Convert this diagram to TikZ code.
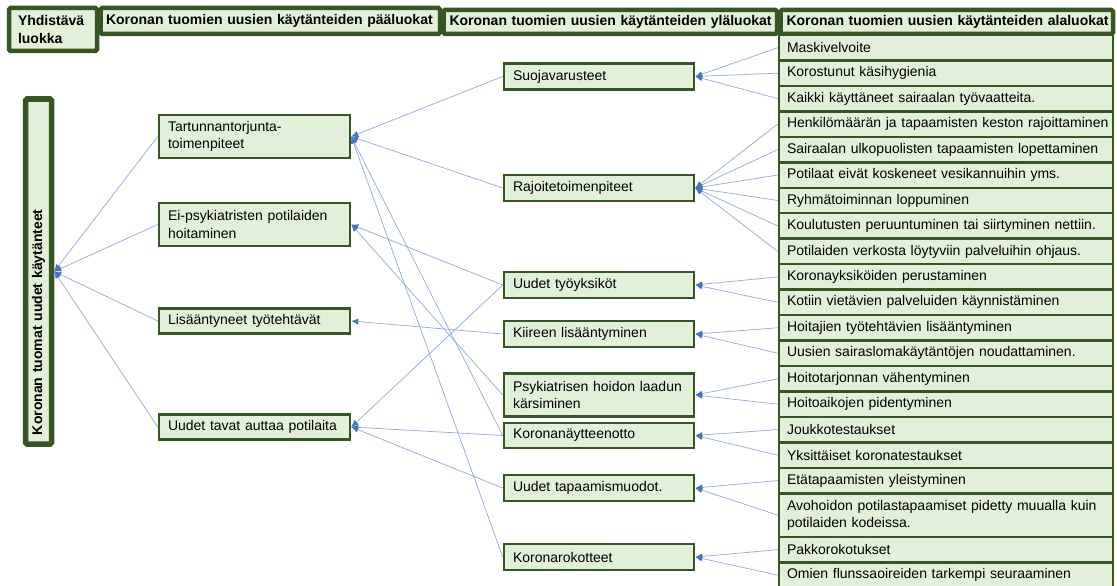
\documentclass[tikz,border=0pt]{standalone}
\usepackage{fontspec}
\setmainfont{Liberation Sans}
\usetikzlibrary{arrows.meta}
\definecolor{dkgreen}{HTML}{375623}
\definecolor{ltgreen}{HTML}{E2EFD9}
\definecolor{lineblue}{HTML}{8FAADC}
\definecolor{tipblue}{HTML}{4472C4}
\newcommand{\myfs}{\fontsize{14pt}{17.5pt}\selectfont}
\begin{document}
\begin{tikzpicture}[x=1pt,y=-1pt,
  cbox/.style={draw=dkgreen, fill=ltgreen, line width=2.5pt, inner xsep=9pt, inner ysep=0pt, align=left, font=\myfs, text=black},
  lbox/.style={cbox, text width=173pt, minimum width=191pt},
  mbox/.style={cbox, text width=172pt, minimum width=190pt},
  rbox/.style={cbox, inner xsep=8pt, text width=318pt, minimum width=334pt, minimum height=25.46pt},
  hbox/.style={cbox, line width=4.5pt, font=\myfs\bfseries, rounded corners=1.5pt},
  conn/.style={draw=lineblue, line width=0.7pt, -{Latex[length=7pt,width=6pt,color=tipblue]}},
]
\fill[white] (0,0) rectangle (1117,586);
\useasboundingbox (0,0) rectangle (1117,586);

% header
\node[hbox, inner xsep=5.5pt, text width=328.5pt, minimum width=339.5pt, minimum height=26pt] (hpaa) at (270.25,21) {\mbox{Koronan tuomien uusien käytänteiden pääluokat}};
\node[hbox, inner xsep=6pt, text width=321.5pt, minimum width=333.5pt, minimum height=24pt] (hyla) at (610.25,22) {\mbox{Koronan tuomien uusien käytänteiden yläluokat}};
\node[hbox, inner xsep=6pt, text width=320.5pt, minimum width=332.5pt, minimum height=24pt] (hala) at (946.75,22) {\mbox{Koronan tuomien uusien käytänteiden alaluokat}};
\node[hbox, inner xsep=9pt, text width=70pt, minimum width=88pt, minimum height=43pt] (hyhd) at (53,29.5) {Yhdistävä\\luokka};

% root
\node[hbox, line width=5.5pt, rotate=90, inner xsep=9pt, text width=327pt, minimum width=345pt, minimum height=26pt] (root) at (38.5,271.5) {Koronan tuomat uudet käytänteet};

% paaluokat
\node[lbox, minimum height=43pt] (tart) at (254.5,136.5) {Tartunnantorjunta-\\toimenpiteet};
\node[lbox, minimum height=43pt] (ei) at (254.5,224.5) {Ei-psykiatristen potilaiden\\hoitaminen};
\node[lbox, minimum height=25pt] (lis) at (254.5,321) {Lisääntyneet työtehtävät};
\node[lbox, minimum height=25pt] (tavat) at (254.5,427) {Uudet tavat auttaa potilaita};

% ylaluokat
\node[mbox, minimum height=26pt] (suoja) at (599,76.5) {Suojavarusteet};
\node[mbox, minimum height=26pt] (rajo) at (599,188) {Rajoitetoimenpiteet};
\node[mbox, minimum height=26pt] (tyoy) at (599,285) {Uudet työyksiköt};
\node[mbox, minimum height=26pt] (kiire) at (599,334) {Kiireen lisääntyminen};
\node[mbox, minimum height=43pt] (psyk) at (599,395) {Psykiatrisen hoidon laadun\\kärsiminen};
\node[mbox, minimum height=25pt] (nayt) at (599,435.5) {Koronanäytteenotto};
\node[mbox, minimum height=26pt] (tapa) at (599,488) {Uudet tapaamismuodot.};
\node[mbox, minimum height=26pt] (roko) at (599,557) {Koronarokotteet};

% alaluokat
\node[rbox] (r1) at (946,47.73) {Maskivelvoite};
\node[rbox] (r2) at (946,73.19) {Korostunut käsihygienia};
\node[rbox] (r3) at (946,98.65) {Kaikki käyttäneet sairaalan työvaatteita.};
\node[rbox] (r4) at (946,124.11) {\mbox{Henkilömäärän ja tapaamisten keston rajoittaminen}};
\node[rbox] (r5) at (946,149.57) {\mbox{Sairaalan ulkopuolisten tapaamisten lopettaminen}};
\node[rbox] (r6) at (946,175.03) {Potilaat eivät koskeneet vesikannuihin yms.};
\node[rbox] (r7) at (946,200.49) {Ryhmätoiminnan loppuminen};
\node[rbox] (r8) at (946,225.95) {\mbox{Koulutusten peruuntuminen tai siirtyminen nettiin.}};
\node[rbox] (r9) at (946,251.41) {\mbox{Potilaiden verkosta löytyviin palveluihin ohjaus.}};
\node[rbox] (r10) at (946,276.87) {Koronayksiköiden perustaminen};
\node[rbox] (r11) at (946,302.33) {Kotiin vietävien palveluiden käynnistäminen};
\node[rbox] (r12) at (946,327.79) {Hoitajien työtehtävien lisääntyminen};
\node[rbox] (r13) at (946,353.25) {Uusien sairaslomakäytäntöjen noudattaminen.};
\node[rbox] (r14) at (946,378.71) {Hoitotarjonnan vähentyminen};
\node[rbox] (r15) at (946,404.17) {Hoitoaikojen pidentyminen};
\node[rbox] (r16) at (946,429.63) {Joukkotestaukset};
\node[rbox] (r17) at (946,455.09) {Yksittäiset koronatestaukset};
\node[rbox] (r18) at (946,480.55) {Etätapaamisten yleistyminen};
\node[rbox, minimum height=43.7pt] (r19) at (946,515.13) {Avohoidon potilastapaamiset pidetty muualla kuin\\potilaiden kodeissa.};
\node[rbox] (r20) at (946,549.71) {Pakkorokotukset};
\node[rbox] (r21) at (946,575.17) {Omien flunssaoireiden tarkempi seuraaminen};

% connectors: paaluokat -> root
\foreach \s in {tart,ei,lis,tavat} \draw[conn] (\s.west) -- (root.south);
% ylaluokat -> paaluokat
\draw[conn] (suoja.west) -- (tart.east);
\draw[conn] (rajo.west) -- (tart.east);
\draw[conn] (nayt.west) -- (tart.east);
\draw[conn] (roko.west) -- (tart.east);
\draw[conn] (tyoy.west) -- (ei.east);
\draw[conn] (psyk.west) -- (ei.east);
\draw[conn] (kiire.west) -- (lis.east);
\draw[conn] (tyoy.west) -- (tavat.east);
\draw[conn] (nayt.west) -- (tavat.east);
\draw[conn] (tapa.west) -- (tavat.east);
% alaluokat -> ylaluokat
\foreach \s in {r1,r2,r3} \draw[conn] (\s.west) -- (suoja.east);
\foreach \s in {r4,r5,r6,r7,r8,r9} \draw[conn] (\s.west) -- (rajo.east);
\foreach \s in {r10,r11} \draw[conn] (\s.west) -- (tyoy.east);
\foreach \s in {r12,r13} \draw[conn] (\s.west) -- (kiire.east);
\foreach \s in {r14,r15} \draw[conn] (\s.west) -- (psyk.east);
\foreach \s in {r16,r17} \draw[conn] (\s.west) -- (nayt.east);
\foreach \s in {r18,r19} \draw[conn] (\s.west) -- (tapa.east);
\foreach \s in {r20,r21} \draw[conn] (\s.west) -- (roko.east);
\end{tikzpicture}
\end{document}
